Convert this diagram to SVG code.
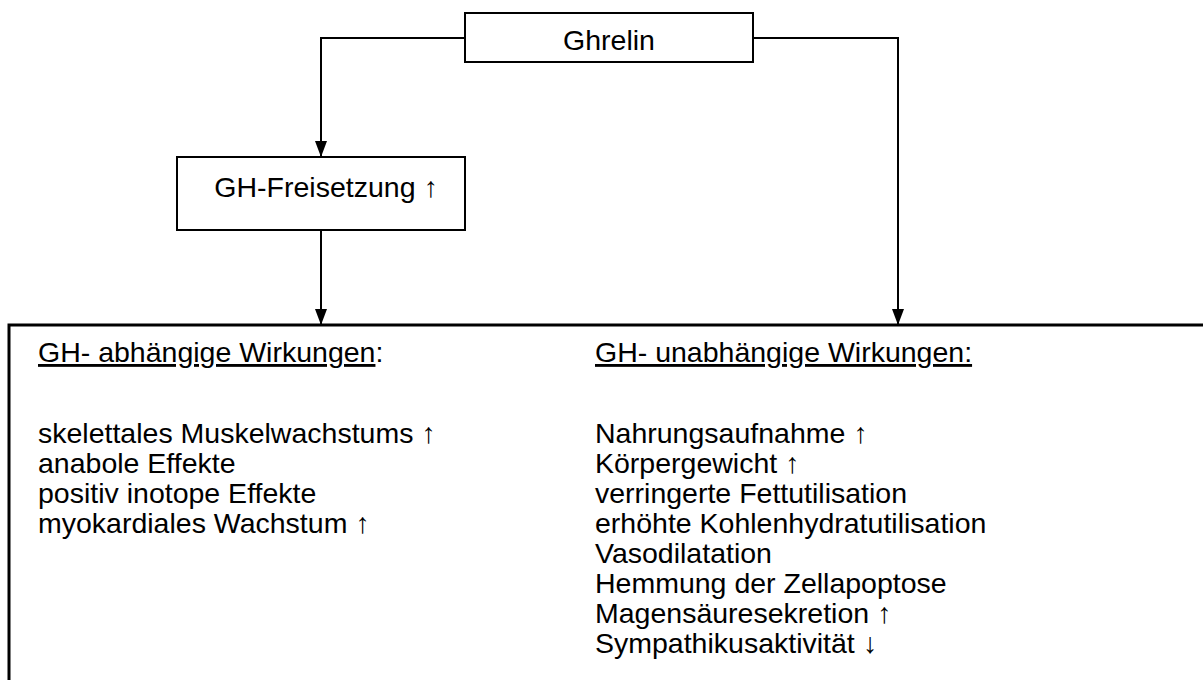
<svg xmlns="http://www.w3.org/2000/svg" width="1203" height="680" viewBox="0 0 1203 680">
<defs>
<style>
.box{fill:#fff;stroke:#000;stroke-width:2}
.t{font-family:"Liberation Sans",Arial,sans-serif;font-size:28.5px;fill:#000}
.c{text-anchor:middle}
.u{text-decoration:underline}
.ln{fill:none;stroke:#000;stroke-width:2}
</style>
<marker id="arr" viewBox="0 0 16 12" refX="16" refY="6" markerWidth="16" markerHeight="12" orient="auto" markerUnits="userSpaceOnUse">
<path d="M0,0 L16,6 L0,12 Z" fill="#000"/>
</marker>
</defs>
<rect width="1203" height="680" fill="#fff"/>
<g id="connectors">
<polyline class="ln" points="465,38 321,38 321,157" marker-end="url(#arr)"/>
<polyline class="ln" points="321,230 321,325" marker-end="url(#arr)"/>
<polyline class="ln" points="753,38 898,38 898,325" marker-end="url(#arr)"/>
</g>
<g id="ghrelin">
<rect class="box" x="465" y="13" width="288" height="49"/>
<text class="t c" x="609" y="50">Ghrelin</text>
</g>
<g id="gh-freisetzung">
<rect class="box" x="177" y="157" width="288" height="73"/>
<text class="t c" x="326" y="197">GH-Freisetzung ↑</text>
</g>
<g id="wirkungen">
<path d="M9,690 L9,325 L1210,325" fill="none" stroke="#000" stroke-width="3"/>
<text class="t" x="38" y="362"><tspan class="u">GH- abhängige Wirkungen</tspan>:</text>
<text class="t" x="38" y="443">skelettales Muskelwachstums ↑</text>
<text class="t" x="38" y="473">anabole Effekte</text>
<text class="t" x="38" y="503">positiv inotope Effekte</text>
<text class="t" x="38" y="533">myokardiales Wachstum ↑</text>
<text class="t u" x="595" y="362">GH- unabhängige Wirkungen:</text>
<text class="t" x="595" y="443">Nahrungsaufnahme ↑</text>
<text class="t" x="595" y="473">Körpergewicht ↑</text>
<text class="t" x="595" y="503">verringerte Fettutilisation</text>
<text class="t" x="595" y="533">erhöhte Kohlenhydratutilisation</text>
<text class="t" x="595" y="563">Vasodilatation</text>
<text class="t" x="595" y="593">Hemmung der Zellapoptose</text>
<text class="t" x="595" y="623">Magensäuresekretion ↑</text>
<text class="t" x="595" y="653">Sympathikusaktivität ↓</text>
</g>
</svg>
